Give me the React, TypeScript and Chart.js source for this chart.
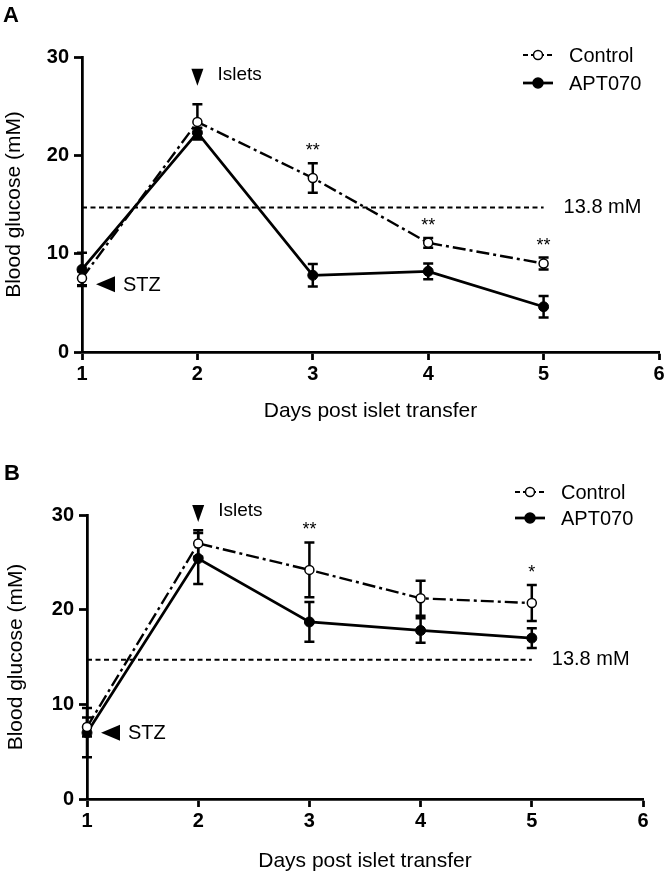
import React, { useEffect, useRef } from 'react';
import { Chart, registerables } from 'chart.js';

Chart.register(...registerables);

// ---------- data ----------
const days = [1, 2, 3, 4, 5];
const xTicks = [1, 2, 3, 4, 5, 6];
const yTicks = [0, 10, 20, 30];
const seriesNames = ['Control', 'APT070'];

const controlA = [7.5, 23.4, 17.7, 11.1, 9.0];
const controlErrA = [0.7, 1.8, 1.5, 0.5, 0.6];
const aptA = [8.4, 22.3, 7.8, 8.2, 4.6];
const aptErrA = [1.7, 0.5, 1.15, 0.8, 1.1];
const sigA = ['', '', '**', '**', '**'];

const controlB = [7.6, 27.0, 24.2, 21.2, 20.7];
const controlErrB = [1.0, 1.4, 2.9, 1.85, 1.9];
const aptB = [7.0, 25.4, 18.7, 17.8, 17.0];
const aptErrB = [2.6, 2.7, 2.1, 1.3, 1.05];
const sigB = ['', '', '**', '', '*'];

const thresholdLine = 14.7;
const thresholdLabel = '13.8 mM';
const thresholdDays = [1, 5];

const isletsDay = 2;
const stzDay = 1;
const isletsLevelA = 28.0;
const isletsLevelB = 30.2;
const stzLevelA = 6.9;
const stzLevelB = 7.0;

const FONT = '"Liberation Sans", Arial, Helvetica, sans-serif';

type Panel = {
  letter: string;
  control: number[];
  controlErr: number[];
  apt: number[];
  aptErr: number[];
  sig: string[];
  isletsLevel: number;
  stzLevel: number;
  h: number;
  padTop: number;
  padRight: number;
  yAxisW: number;
  xAxisH: number;
  xTitlePad: number;
  yTitlePad: number;
  legendX: number;
  legendY: number[];
  letterPos: [number, number];
};

const panels: Panel[] = [
  {
    letter: 'A',
    control: controlA,
    controlErr: controlErrA,
    apt: aptA,
    aptErr: aptErrA,
    sig: sigA,
    isletsLevel: isletsLevelA,
    stzLevel: stzLevelA,
    h: 430,
    padTop: 57,
    padRight: 10,
    yAxisW: 82,
    xAxisH: 78,
    xTitlePad: 6,
    yTitlePad: 2,
    legendX: 523,
    legendY: [55, 83],
    letterPos: [3, 22],
  },
  {
    letter: 'B',
    control: controlB,
    controlErr: controlErrB,
    apt: aptB,
    aptErr: aptErrB,
    sig: sigB,
    isletsLevel: isletsLevelB,
    stzLevel: stzLevelB,
    h: 446,
    padTop: 85,
    padRight: 26,
    yAxisW: 87,
    xAxisH: 77,
    xTitlePad: 2,
    yTitlePad: 4,
    legendX: 515,
    legendY: [62, 88],
    letterPos: [4, 50],
  },
];

const CONTROL_DASH = [13, 4, 3, 4];
const THRESH_DASH = [5, 3.5];

function drawMarker(ctx: CanvasRenderingContext2D, x: number, y: number, filled: boolean) {
  ctx.save();
  ctx.setLineDash([]);
  ctx.beginPath();
  ctx.arc(x, y, filled ? 5 : 4.5, 0, Math.PI * 2);
  ctx.fillStyle = filled ? '#000' : '#fff';
  ctx.fill();
  ctx.lineWidth = 1.5;
  ctx.strokeStyle = '#000';
  ctx.stroke();
  ctx.restore();
}

function makePlugin(p: Panel) {
  return {
    id: 'extras' + p.letter,
    beforeDatasetsDraw(chart: any) {
      const ctx: CanvasRenderingContext2D = chart.ctx;
      const xs = chart.scales.x;
      const ys = chart.scales.y;
      ctx.save();
      ctx.strokeStyle = '#000';
      ctx.lineWidth = 2.5;
      ctx.setLineDash([]);
      const groups: [number[], number[]][] = [
        [p.control, p.controlErr],
        [p.apt, p.aptErr],
      ];
      for (const [vals, errs] of groups) {
        days.forEach((d, i) => {
          const x = xs.getPixelForValue(d);
          const y1 = ys.getPixelForValue(vals[i] + errs[i]);
          const y2 = ys.getPixelForValue(vals[i] - errs[i]);
          ctx.beginPath();
          ctx.moveTo(x, y1);
          ctx.lineTo(x, y2);
          ctx.moveTo(x - 5, y1);
          ctx.lineTo(x + 5, y1);
          ctx.moveTo(x - 5, y2);
          ctx.lineTo(x + 5, y2);
          ctx.stroke();
        });
      }
      ctx.restore();
    },
    afterDraw(chart: any) {
      const ctx: CanvasRenderingContext2D = chart.ctx;
      const xs = chart.scales.x;
      const ys = chart.scales.y;
      ctx.save();
      ctx.fillStyle = '#000';
      ctx.strokeStyle = '#000';

      // significance asterisks
      ctx.font = `18px ${FONT}`;
      ctx.textAlign = 'center';
      ctx.textBaseline = 'middle';
      days.forEach((d, i) => {
        if (!p.sig[i]) return;
        const x = xs.getPixelForValue(d);
        const y = ys.getPixelForValue(p.control[i] + p.controlErr[i]) - 12;
        ctx.fillText(p.sig[i], x, y);
      });

      // threshold label
      ctx.textAlign = 'left';
      ctx.font = `20px ${FONT}`;
      ctx.fillText(
        thresholdLabel,
        xs.getPixelForValue(thresholdDays[1]) + 20,
        ys.getPixelForValue(thresholdLine)
      );

      // Islets marker
      const ix = xs.getPixelForValue(isletsDay);
      const iy = ys.getPixelForValue(p.isletsLevel);
      ctx.beginPath();
      ctx.moveTo(ix - 6, iy - 8);
      ctx.lineTo(ix + 6, iy - 8);
      ctx.lineTo(ix, iy + 9);
      ctx.closePath();
      ctx.fill();
      ctx.font = `19px ${FONT}`;
      ctx.fillText('Islets', ix + 20, iy - 2);

      // STZ marker
      const sx = xs.getPixelForValue(stzDay);
      const sy = ys.getPixelForValue(p.stzLevel);
      ctx.beginPath();
      ctx.moveTo(sx + 14, sy);
      ctx.lineTo(sx + 33, sy - 8);
      ctx.lineTo(sx + 33, sy + 8);
      ctx.closePath();
      ctx.fill();
      ctx.font = `20px ${FONT}`;
      ctx.fillText('STZ', sx + 41, sy + 1);

      // legend
      const lx0 = p.legendX;
      const lx1 = p.legendX + 30;
      seriesNames.forEach((name, i) => {
        const y = p.legendY[i];
        ctx.save();
        ctx.lineWidth = i === 0 ? 2.2 : 2.75;
        ctx.setLineDash(i === 0 ? [5, 3] : []);
        ctx.beginPath();
        ctx.moveTo(lx0, y);
        ctx.lineTo(lx1, y);
        ctx.stroke();
        ctx.restore();
        drawMarker(ctx, (lx0 + lx1) / 2, y, i === 1);
        ctx.font = `20px ${FONT}`;
        ctx.textAlign = 'left';
        ctx.textBaseline = 'middle';
        ctx.fillText(name, lx1 + 16, y + 1);
      });

      // panel letter
      ctx.font = `bold 22px ${FONT}`;
      ctx.textBaseline = 'alphabetic';
      ctx.textAlign = 'left';
      ctx.fillText(p.letter, p.letterPos[0], p.letterPos[1]);
      ctx.restore();
    },
  };
}

function buildConfig(p: Panel): any {
  const tickFont = { family: FONT, size: 20, weight: 'bold' as const };
  const titleFont = { family: FONT, size: 21 };
  return {
    type: 'line',
    data: {
      datasets: [
        {
          label: seriesNames[0],
          data: days.map((d, i) => ({ x: d, y: p.control[i] })),
          borderColor: '#000',
          borderWidth: 2.4,
          borderDash: CONTROL_DASH,
          pointRadius: 4.5,
          pointBackgroundColor: '#fff',
          pointBorderColor: '#000',
          pointBorderWidth: 1.5,
          tension: 0,
          clip: false,
        },
        {
          label: seriesNames[1],
          data: days.map((d, i) => ({ x: d, y: p.apt[i] })),
          borderColor: '#000',
          borderWidth: 2.75,
          pointRadius: 5,
          pointBackgroundColor: '#000',
          pointBorderColor: '#000',
          pointBorderWidth: 1,
          tension: 0,
          clip: false,
        },
        {
          label: thresholdLabel,
          data: thresholdDays.map((d) => ({ x: d, y: thresholdLine })),
          borderColor: '#000',
          borderWidth: 2,
          borderDash: THRESH_DASH,
          pointRadius: 0,
          tension: 0,
          clip: false,
        },
      ],
    },
    options: {
      animation: false,
      responsive: false,
      maintainAspectRatio: false,
      devicePixelRatio: 1,
      events: [],
      layout: { padding: { top: p.padTop, right: p.padRight, left: 0, bottom: 0 } },
      plugins: {
        legend: { display: false },
        tooltip: { enabled: false },
        title: { display: false },
      },
      scales: {
        x: {
          type: 'linear',
          min: xTicks[0],
          max: xTicks[xTicks.length - 1],
          afterBuildTicks: (s: any) => {
            s.ticks = xTicks.map((v) => ({ value: v }));
          },
          afterFit: (s: any) => {
            s.height = p.xAxisH;
          },
          ticks: { font: tickFont, color: '#000', padding: 2, maxRotation: 0, autoSkip: false },
          grid: {
            drawOnChartArea: false,
            drawTicks: true,
            tickLength: 8,
            tickWidth: 2.75,
            tickColor: '#000',
          },
          border: { display: true, color: '#000', width: 2.75 },
          title: {
            display: true,
            text: 'Days post islet transfer',
            font: titleFont,
            color: '#000',
            padding: { top: 0, bottom: p.xTitlePad },
          },
        },
        y: {
          type: 'linear',
          min: yTicks[0],
          max: yTicks[yTicks.length - 1],
          afterBuildTicks: (s: any) => {
            s.ticks = yTicks.map((v) => ({ value: v }));
          },
          afterFit: (s: any) => {
            s.width = p.yAxisW;
          },
          ticks: { font: tickFont, color: '#000', padding: 5 },
          grid: {
            drawOnChartArea: false,
            drawTicks: true,
            tickLength: 8,
            tickWidth: 2.75,
            tickColor: '#000',
          },
          border: { display: true, color: '#000', width: 2.75 },
          title: {
            display: true,
            text: 'Blood glucose (mM)',
            font: titleFont,
            color: '#000',
            padding: { top: p.yTitlePad, bottom: 0 },
          },
        },
      },
    },
    plugins: [makePlugin(p)],
  };
}

function PanelChart({ p }: { p: Panel }) {
  const ref = useRef<HTMLCanvasElement | null>(null);
  useEffect(() => {
    if (!ref.current) return;
    const chart = new Chart(ref.current, buildConfig(p));
    return () => chart.destroy();
  }, [p]);
  return (
    <canvas
      ref={ref}
      width={669}
      height={p.h}
      style={{ display: 'block', width: 669, height: p.h }}
    />
  );
}

export default function App() {
  return (
    <div
      style={{
        position: 'absolute',
        left: 0,
        top: 0,
        width: 669,
        height: 876,
        background: '#fff',
      }}
    >
      {panels.map((p) => (
        <PanelChart key={p.letter} p={p} />
      ))}
    </div>
  );
}
